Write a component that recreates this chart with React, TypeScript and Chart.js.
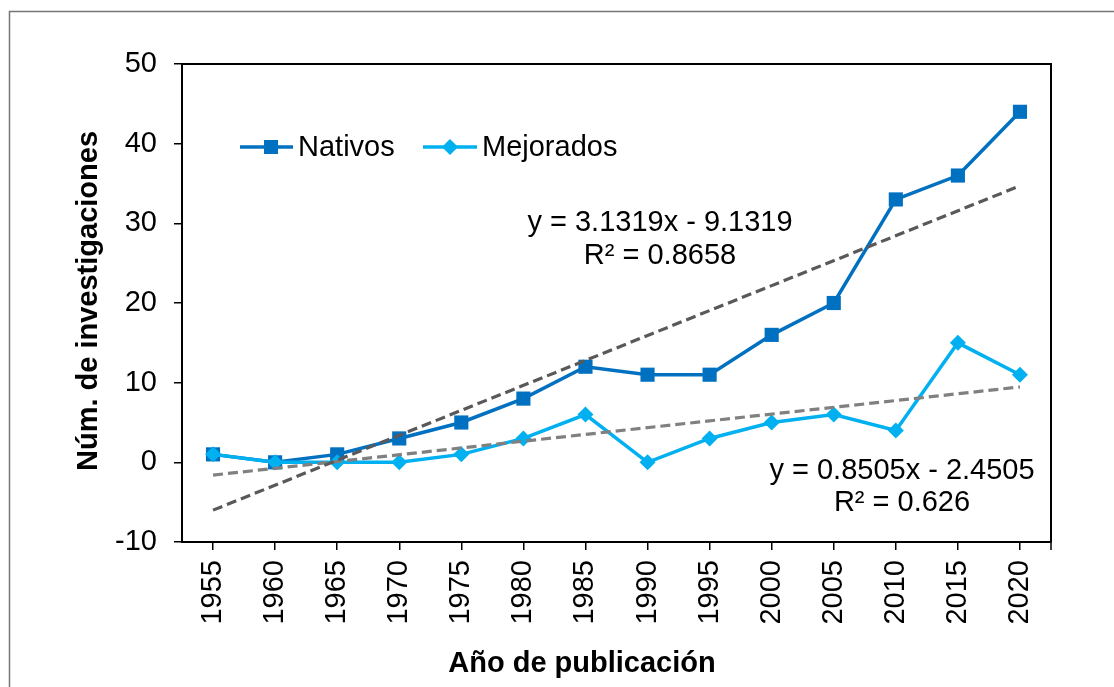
import React, { useEffect, useRef } from "react";
import { Chart, registerables } from "chart.js";

Chart.register(...registerables);

const years = ["1955", "1960", "1965", "1970", "1975", "1980", "1985", "1990", "1995", "2000", "2005", "2010", "2015", "2020"];
const nativos = [1, 0, 1, 3, 5, 8, 12, 11, 11, 16, 20, 33, 36, 44];
const mejorados = [1, 0, 0, 0, 1, 3, 6, 0, 3, 5, 6, 4, 15, 11];
// Linear trend lines: only the two end points shown in the picture
const trendNativos = [-6.0, null, null, null, null, null, null, null, null, null, null, null, null, 34.71];
const trendMejorados = [-1.6, null, null, null, null, null, null, null, null, null, null, null, null, 9.46];
const yTicks = [-10, 0, 10, 20, 30, 40, 50];
const eqNativos = ["y = 3.1319x - 9.1319", "R² = 0.8658"];
const eqMejorados = ["y = 0.8505x - 2.4505", "R² = 0.626"];

const FONT = "'Liberation Sans', Arial, sans-serif";
const C_NAT = "#0070C0";
const C_MEJ = "#00B0F0";

const overlay = {
  id: "overlay",
  afterDraw(chart: any) {
    const ctx = chart.ctx;
    const a = chart.chartArea;
    ctx.save();
    // outer frame
    ctx.strokeStyle = "#767676";
    ctx.lineWidth = 1.5;
    ctx.beginPath();
    ctx.moveTo(9.5, 687);
    ctx.lineTo(9.5, 11.5);
    ctx.lineTo(1114, 11.5);
    ctx.stroke();
    // plot top/right border
    ctx.strokeStyle = "#000";
    ctx.lineWidth = 2;
    ctx.beginPath();
    ctx.moveTo(a.left, a.top);
    ctx.lineTo(a.right, a.top);
    ctx.lineTo(a.right, a.bottom);
    ctx.stroke();
    // extra tick at right end
    ctx.lineWidth = 1.5;
    ctx.beginPath();
    ctx.moveTo(a.right, a.bottom);
    ctx.lineTo(a.right, a.bottom + 8);
    ctx.stroke();

    // legend
    ctx.lineWidth = 3.5;
    ctx.strokeStyle = C_NAT;
    ctx.beginPath();
    ctx.moveTo(240, 147);
    ctx.lineTo(293, 147);
    ctx.stroke();
    ctx.fillStyle = C_NAT;
    ctx.fillRect(271 - 7, 147 - 7, 14, 14);
    ctx.strokeStyle = C_MEJ;
    ctx.beginPath();
    ctx.moveTo(423, 147);
    ctx.lineTo(477, 147);
    ctx.stroke();
    ctx.fillStyle = C_MEJ;
    ctx.beginPath();
    ctx.moveTo(450, 147 - 8);
    ctx.lineTo(458, 147);
    ctx.lineTo(450, 147 + 8);
    ctx.lineTo(442, 147);
    ctx.closePath();
    ctx.fill();
    ctx.fillStyle = "#000";
    ctx.font = `29px ${FONT}`;
    ctx.textBaseline = "middle";
    ctx.textAlign = "left";
    ctx.fillText("Nativos", 298, 148);
    ctx.fillText("Mejorados", 482, 148);

    // equations
    ctx.textAlign = "center";
    ctx.fillText(eqNativos[0], 660, 223);
    ctx.fillText(eqNativos[1], 660, 256);
    ctx.fillText(eqMejorados[0], 902, 471);
    ctx.fillText(eqMejorados[1], 902, 503);

    // axis titles
    ctx.font = `bold 29px ${FONT}`;
    ctx.fillText("Año de publicación", 582, 664);
    ctx.translate(89, 301);
    ctx.rotate(-Math.PI / 2);
    ctx.fillText("Núm. de investigaciones", 0, 0);
    ctx.restore();
  },
};

export default function App() {
  const ref = useRef<HTMLCanvasElement>(null);
  useEffect(() => {
    const chart = new Chart(ref.current!, {
      type: "line",
      data: {
        labels: years,
        datasets: [
          {
            label: "Tendencia Nativos",
            data: trendNativos,
            borderColor: "#595959",
            borderWidth: 3.2,
            borderDash: [10, 5],
            pointRadius: 0,
            spanGaps: true,
            order: 0,
          },
          {
            label: "Tendencia Mejorados",
            data: trendMejorados,
            borderColor: "#808080",
            borderWidth: 3.2,
            borderDash: [10, 5],
            pointRadius: 0,
            spanGaps: true,
            order: 0,
          },
          {
            label: "Mejorados",
            data: mejorados,
            borderColor: C_MEJ,
            backgroundColor: C_MEJ,
            borderWidth: 3.5,
            pointStyle: "rectRot",
            pointRadius: 8,
            pointBorderWidth: 0,
            tension: 0,
            order: 1,
          },
          {
            label: "Nativos",
            data: nativos,
            borderColor: C_NAT,
            backgroundColor: C_NAT,
            borderWidth: 3.5,
            pointStyle: "rect",
            pointRadius: 10,
            pointBorderWidth: 0,
            tension: 0,
            order: 2,
          },
        ],
      },
      options: {
        animation: false,
        responsive: false,
        maintainAspectRatio: false,
        layout: { padding: { left: 0, top: 64, right: 63, bottom: 0 } },
        plugins: { legend: { display: false }, tooltip: { enabled: false } },
        scales: {
          x: {
            offset: true,
            afterFit: (s: any) => {
              s.height = 145;
            },
            grid: {
              display: true,
              drawOnChartArea: false,
              drawTicks: true,
              tickLength: 8,
              color: "#000",
              lineWidth: 1.5,
              offset: false,
            },
            border: { display: true, color: "#000", width: 2 },
            ticks: {
              autoSkip: false,
              maxRotation: 90,
              minRotation: 90,
              padding: 10,
              color: "#000",
              font: { family: FONT, size: 29 },
            },
          },
          y: {
            min: -10,
            max: 50,
            afterFit: (s: any) => {
              s.width = 182;
            },
            afterBuildTicks: (s: any) => {
              s.ticks = yTicks.map((v) => ({ value: v }));
            },
            grid: {
              display: true,
              drawOnChartArea: false,
              drawTicks: true,
              tickLength: 8,
              color: "#000",
              lineWidth: 1.5,
            },
            border: { display: true, color: "#000", width: 2 },
            ticks: {
              padding: 17,
              color: "#000",
              font: { family: FONT, size: 29 },
            },
          },
        },
      },
      plugins: [overlay],
    });
    return () => chart.destroy();
  }, []);
  return (
    <div style={{ position: "absolute", left: 0, top: 0, width: 1114, height: 687, background: "#fff" }}>
      <canvas ref={ref} width={1114} height={687} style={{ display: "block", width: 1114, height: 687 }} />
    </div>
  );
}
